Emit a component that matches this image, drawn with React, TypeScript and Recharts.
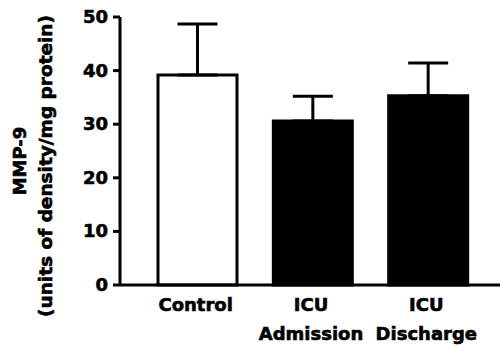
import React from "react";
import { BarChart, Bar, XAxis, YAxis, ErrorBar, Cell } from "recharts";

const categories = ["Control", "ICU Admission", "ICU Discharge"];
const tickLines = [["Control"], ["ICU", "Admission"], ["ICU", "Discharge"]];
const means = [39.2, 30.6, 35.3];
const sems = [9.5, 4.6, 6.1];
const fills = ["#ffffff", "#000000", "#000000"];
const yTicks = [0, 10, 20, 30, 40, 50];

const data = categories.map((c, i) => ({
  name: c,
  value: means[i],
  err: [0, sems[i]],
}));

const FONT = "'DejaVu Sans', sans-serif";

const XTick = (props: any) => {
  const { x, y, payload } = props;
  const lines = tickLines[payload.index] || [payload.value];
  return (
    <g>
      {lines.map((l: string, i: number) => (
        <text
          key={i}
          x={x - 2}
          y={y + 18 + i * 29}
          textAnchor="middle"
          fontFamily={FONT}
          fontWeight="bold"
          fontSize={18}
          fill="#000"
          stroke="#000"
          strokeWidth={0.6}
        >
          {l}
        </text>
      ))}
    </g>
  );
};

const YTick = (props: any) => {
  const { x, y, payload } = props;
  return (
    <text
      x={x}
      y={y + 6}
      textAnchor="end"
      fontFamily={FONT}
      fontWeight="bold"
      fontSize={18}
      fill="#000"
      stroke="#000"
      strokeWidth={0.6}
    >
      {payload.value}
    </text>
  );
};

const YLabel = () => (
  <g>
    <text
      transform="translate(26,161) rotate(-90)"
      textAnchor="middle"
      fontFamily={FONT}
      fontWeight="bold"
      fontSize={18}
      fill="#000"
      stroke="#000"
      strokeWidth={0.6}
    >
      MMP-9
    </text>
    <text
      transform="translate(52,166) rotate(-90)"
      textAnchor="middle"
      fontFamily={FONT}
      fontWeight="bold"
      fontSize={18.5}
      fill="#000"
      stroke="#000"
      strokeWidth={0.6}
    >
      (units of density/mg protein)
    </text>
  </g>
);

export default function App() {
  return (
    <div style={{ position: "absolute", left: 0, top: 0, width: 503, height: 348, background: "#fff" }}>
      <BarChart
        width={503}
        height={348}
        data={data}
        margin={{ top: 17, right: 3, bottom: 0, left: 0 }}
        barCategoryGap={0}
      >
        <XAxis
          dataKey="name"
          height={63}
          padding={{ left: 20, right: 14 }}
          tickLine={false}
          axisLine={{ stroke: "#000", strokeWidth: 3 }}
          tick={<XTick />}
          interval={0}
        />
        <YAxis
          width={120}
          domain={[0, 50]}
          ticks={yTicks}
          tickSize={7}
          tickMargin={5}
          axisLine={{ stroke: "#000", strokeWidth: 3 }}
          tickLine={{ stroke: "#000", strokeWidth: 3 }}
          tick={<YTick />}
        />
        <Bar dataKey="value" barSize={79} isAnimationActive={false} stroke="#000" strokeWidth={3}>
          {data.map((d, i) => (
            <Cell key={i} fill={fills[i]} />
          ))}
          <ErrorBar dataKey="err" width={20} stroke="#000" strokeWidth={3} direction="y" />
        </Bar>
        <YLabel />
      </BarChart>
    </div>
  );
}
